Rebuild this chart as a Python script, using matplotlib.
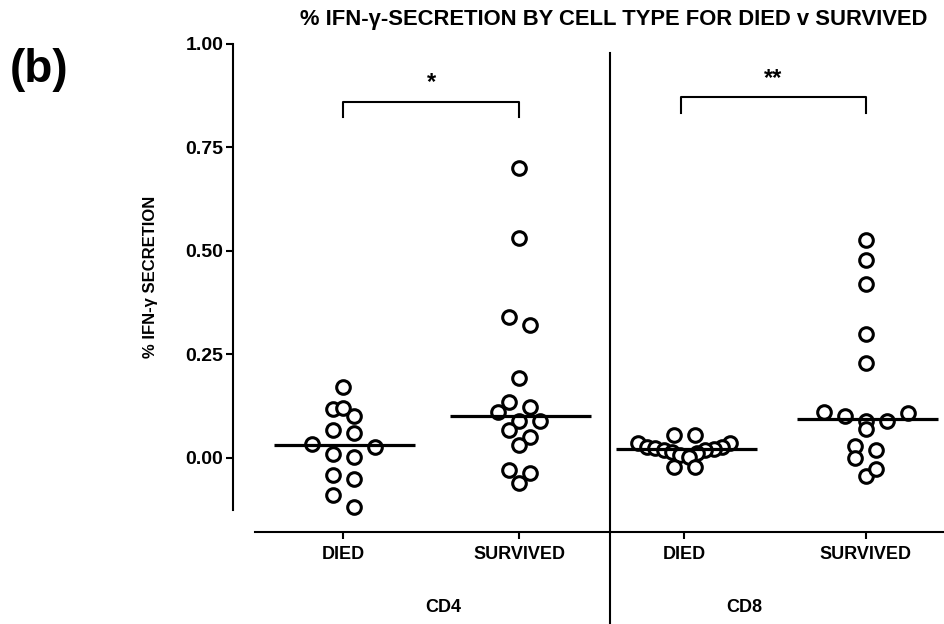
import numpy as np
import matplotlib
matplotlib.use("Agg")
import matplotlib.pyplot as plt
from matplotlib.transforms import blended_transform_factory

plt.rcParams['font.family'] = ['Liberation Sans', 'DejaVu Sans']

# ---------------- data ----------------
categories = ["DIED", "SURVIVED", "DIED", "SURVIVED"]
groups = ["CD4", "CD8"]
cd4_died = [0.171, 0.118, 0.100, 0.120, 0.068, 0.061, 0.034, 0.009, 0.026,
            0.002, -0.041, -0.051, -0.089, -0.119]
cd4_survived = [0.700, 0.531, 0.321, 0.341, 0.192, 0.136, 0.112, 0.122, 0.088,
                0.068, 0.088, 0.051, 0.031, -0.036, -0.061, -0.029]
cd8_died = [0.056, 0.056, 0.036, 0.036, 0.027, 0.027, 0.024, 0.022, 0.019,
            0.018, 0.015, 0.011, 0.007, 0.003, -0.021, -0.021]
cd8_survived = [0.527, 0.478, 0.420, 0.300, 0.229, 0.109, 0.100, 0.088, 0.112,
                0.090, 0.069, 0.029, -0.001, 0.019, -0.043, -0.027]
series = [cd4_died, cd4_survived, cd8_died, cd8_survived]
significance = ["*", "**"]
yticks = [0.00, 0.25, 0.50, 0.75, 1.00]
ytick_labels = ["0.00", "0.25", "0.50", "0.75", "1.00"]

# ---------------- layout ----------------
W, H = 945, 624
fig = plt.figure(figsize=(W / 100, H / 100), dpi=100)
ax_left, ax_right = 255 / W, 1.0
ax_bottom, ax_top = (H - 510) / H, (H - 44) / H
ax = fig.add_axes([ax_left, ax_bottom, ax_right - ax_left, ax_top - ax_bottom])
xpos = [0.0, 1.0, 1.94, 2.97]
group_label_x = [0.568, 2.278]
ax.set_xlim(-0.5, 3.42)
ax.set_ylim(-0.126, 1.0)

# column-scatter layout (row binning, like Prism)
fig.canvas.draw()
marker_ms = 9.8
row_h = 0.04          # data units per row bin
spacing_px = 21.0     # preferred horizontal spacing within a row
max_half_px = 46.0    # maximum half width of a row
x_per_px = 1.0 / (ax.transData.transform((1, 0))[0] - ax.transData.transform((0, 0))[0])

for xc, vals in zip(xpos, series):
    vals = np.asarray(vals)
    xs = np.full(len(vals), float(xc))
    bins = np.floor(vals / row_h).astype(int)
    for b in np.unique(bins):
        idx = np.where(bins == b)[0]
        n = len(idx)
        if n == 1:
            continue
        sp = min(spacing_px, 2 * max_half_px / (n - 1))
        offs = (np.arange(n) - (n - 1) / 2) * sp
        # centre-out order of slots, lowest values nearest the centre
        slot_order = np.argsort(np.abs(offs) + 1e-6 * (offs < 0))
        idx_sorted = idx[np.argsort(vals[idx])]
        for slot, i in zip(slot_order, idx_sorted):
            xs[i] = xc + offs[slot] * x_per_px
    ax.plot(xs, vals, linestyle="none", marker="o", ms=marker_ms,
            mfc="white", mec="black", mew=2.2, zorder=3, clip_on=False)
    med = np.median(vals)
    ax.plot([xc - 0.39, xc + 0.41], [med, med], color="black", lw=2.3,
            zorder=4, solid_capstyle="butt")

# spines
for s in ["top", "right"]:
    ax.spines[s].set_visible(False)
ax.spines["left"].set_position(("outward", 15.8))
ax.spines["bottom"].set_position(("outward", 15.8))
ax.spines["left"].set_bounds(-0.126, 1.0)
ax.spines["left"].set_linewidth(1.5)
ax.spines["bottom"].set_linewidth(1.5)

ax.set_yticks(yticks)
ax.set_yticklabels(ytick_labels, fontsize=14, fontweight="bold")
ax.set_xticks(xpos)
ax.set_xticklabels(categories, fontsize=13, fontweight="bold")
ax.tick_params(axis="y", length=5, width=1.5, pad=2)
ax.tick_params(axis="x", length=5, width=1.5, pad=5)

ax.set_ylabel("% IFN-γ SECRETION", fontsize=12, fontweight="bold", labelpad=20)

# divider line between groups
div_x = 1.514
ax.plot([div_x, div_x], [0.978, -0.45], color="black", lw=1.5, clip_on=False)

# group labels
trans = blended_transform_factory(ax.transData, fig.transFigure)
for gx, g in zip(group_label_x, groups):
    ax.text(gx, (H - 607) / H, g, transform=trans, ha="center", va="center",
            fontsize=13, fontweight="bold")

# significance brackets
brackets = [(xpos[0], xpos[1], 0.861, 0.824), (xpos[2] - 0.02, xpos[3], 0.871, 0.834)]
for (x0, x1, ytop, ybot), lab in zip(brackets, significance):
    ax.plot([x0, x0, x1, x1], [ybot, ytop, ytop, ybot], color="black", lw=1.5,
            clip_on=False)
    ax.text((x0 + x1) / 2, ytop + 0.017, lab, ha="center", va="bottom",
            fontsize=17, fontweight="bold")

fig.text(614 / W, (H - 20) / H, "% IFN-γ-SECRETION BY CELL TYPE FOR DIED v SURVIVED",
         ha="center", va="center", fontsize=15.8, fontweight="bold")
fig.text(39 / W, (H - 70) / H, "(b)", ha="center", va="center",
         fontsize=33, fontweight="bold")

fig.savefig("out.png", dpi=100)
